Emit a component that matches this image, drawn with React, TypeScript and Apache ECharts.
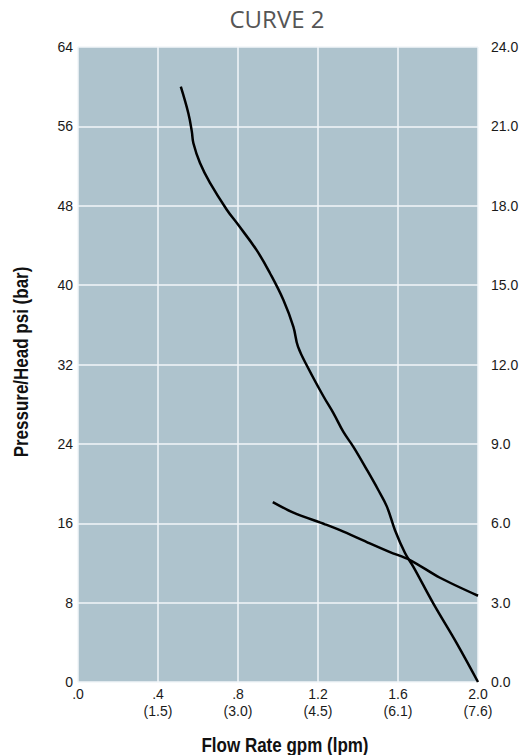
import React, { useEffect, useRef } from "react";
import * as echarts from "echarts";

const title = "CURVE 2";
const xAxisTitle = "Flow Rate gpm (lpm)";
const yAxisTitle = "Pressure/Head psi (bar)";

const xTickValues = [0, 0.4, 0.8, 1.2, 1.6, 2.0];
const xTickLabels = [".0", ".4\n(1.5)", ".8\n(3.0)", "1.2\n(4.5)", "1.6\n(6.1)", "2.0\n(7.6)"];

// Pressure curve (left axis, psi)
const pressureCurve: [number, number][] = [
  [0.514, 60.0], [0.552, 57.3], [0.569, 55.5], [0.577, 54.3], [0.61, 52.3],
  [0.66, 50.3], [0.744, 47.6], [0.8, 46.1], [0.894, 43.5], [0.96, 41.2],
  [1.027, 38.5], [1.077, 35.8], [1.1, 33.8], [1.152, 31.6], [1.227, 28.8],
  [1.277, 27.1], [1.327, 25.2], [1.377, 23.7], [1.444, 21.4], [1.5, 19.4],
  [1.544, 17.7], [1.585, 15.3], [1.635, 13.0], [1.677, 11.6], [1.777, 7.9],
  [1.894, 3.9], [2.0, 0],
];

// Second curve (right axis)
const secondCurve: [number, number][] = [
  [0.974, 6.8], [1.077, 6.4], [1.235, 5.96], [1.31, 5.74], [1.444, 5.29],
  [1.56, 4.91], [1.66, 4.61], [1.81, 3.94], [2.0, 3.26],
];

export default function App() {
  const ref = useRef<HTMLDivElement>(null);
  useEffect(() => {
    if (!ref.current) return;
    const chart = echarts.init(ref.current, null, { renderer: "svg" });
    const axisFont = { fontFamily: "Liberation Sans, Arial, sans-serif", fontSize: 14, color: "#1a1a1a" };
    chart.setOption({
      animation: false,
      backgroundColor: "#ffffff",
      grid: {
        left: 78, right: 49, top: 47, bottom: 73,
        show: true, backgroundColor: "#aec3cd", borderWidth: 0,
      },
      graphic: [
        {
          type: "text", x: 277, y: 18,
          style: {
            text: title, fill: "#555555", font: "24px 'Open Sans', sans-serif",
            textAlign: "center", textVerticalAlign: "middle",
          },
        },
        {
          type: "text", x: 285, y: 745, scaleX: 0.85,
          style: {
            text: xAxisTitle, fill: "#111111",
            font: "bold 20px 'Liberation Sans', Arial, sans-serif",
            textAlign: "center", textVerticalAlign: "middle",
          },
        },
        {
          type: "text", x: 21, y: 362, rotation: Math.PI / 2, scaleX: 0.85,
          style: {
            text: yAxisTitle, fill: "#111111",
            font: "bold 20px 'Liberation Sans', Arial, sans-serif",
            textAlign: "center", textVerticalAlign: "middle",
          },
        },
      ],
      xAxis: {
        type: "value", min: 0, max: 2, interval: 0.4,
        axisLine: { show: false }, axisTick: { show: false },
        splitLine: { show: true, lineStyle: { color: "#f2f6f8", width: 1.5 } },
        axisLabel: {
          ...axisFont, margin: 3, lineHeight: 17,
          formatter: (v: number) => {
            const i = xTickValues.findIndex((t) => Math.abs(t - v) < 1e-6);
            return i >= 0 ? xTickLabels[i] : "";
          },
        },
      },
      yAxis: [
        {
          type: "value", min: 0, max: 64, interval: 8,
          axisLine: { show: false }, axisTick: { show: false },
          splitLine: { show: true, lineStyle: { color: "#f2f6f8", width: 1.5 } },
          axisLabel: { ...axisFont, margin: 5 },
        },
        {
          type: "value", min: 0, max: 24, interval: 3, position: "right",
          axisLine: { show: false }, axisTick: { show: false },
          splitLine: { show: false },
          axisLabel: { ...axisFont, margin: 13, formatter: (v: number) => v.toFixed(1) },
        },
      ],
      series: [
        {
          type: "line", data: pressureCurve, yAxisIndex: 0, smooth: 0.4,
          symbol: "none", lineStyle: { color: "#000000", width: 2.5 },
        },
        {
          type: "line", data: secondCurve, yAxisIndex: 1, smooth: 0.3,
          symbol: "none", lineStyle: { color: "#000000", width: 2.5 },
        },
      ],
    });
    return () => chart.dispose();
  }, []);
  return <div ref={ref} style={{ position: "fixed", left: 0, top: 0, width: 527, height: 755 }} />;
}
